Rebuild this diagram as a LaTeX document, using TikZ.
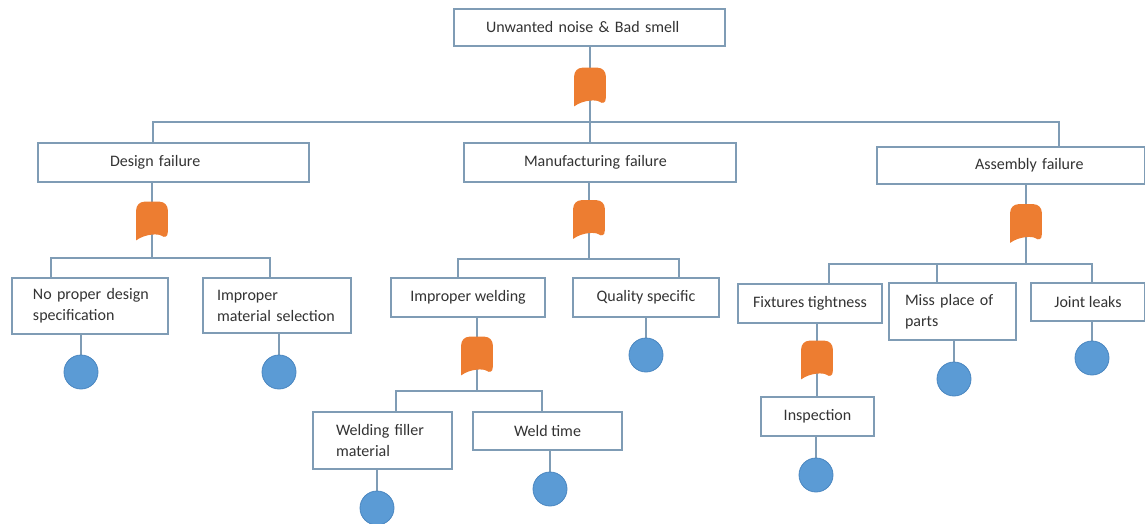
\documentclass[tikz,border=0pt]{standalone}
\usepackage{fontspec}
\setmainfont{Carlito}
\usetikzlibrary{backgrounds, calc}
\definecolor{LineBlue}{HTML}{7F9CB5}
\definecolor{GateOrange}{HTML}{ED7D31}
\definecolor{BasicBlue}{HTML}{5B9BD5}
\definecolor{BasicEdge}{HTML}{4A86C0}
\definecolor{TextGrey}{HTML}{333333}
\tikzset{
  ebox/.style={draw=LineBlue, line width=0.8pt, fill=white, inner sep=0pt,
    text=TextGrey, font=\fontsize{12}{15.75}\selectfont},
  lbox/.style={ebox, align=left, text width=#1},
  gate/.style={inner sep=0pt, minimum width=23.25pt, minimum height=28.5pt},
  basic/.style={circle, fill=BasicBlue, draw=BasicEdge, line width=0.6pt,
    minimum size=25.5pt, inner sep=0pt},
  link/.style={draw=LineBlue, line width=0.8pt},
}

\begin{document}
\begin{tikzpicture}[x=0.75pt, y=-0.75pt]
  \useasboundingbox (0,0) rectangle (1145,524);

  % events
  \node[lbox=203.25pt, minimum height=27.75pt] (top) at (589.5,27.5) {\hspace*{24pt}Unwanted noise \& Bad smell};
  \node[lbox=203.25pt, minimum height=29.25pt] (des) at (173.5,162.5) {\hspace*{54pt}Design failure};
  \node[lbox=204pt, minimum height=29.25pt] (man) at (600,162.5) {\hspace*{45pt}Manufacturing failure};
  \node[lbox=201pt, minimum height=27.75pt] (asm) at (1011,165.5) {\hspace*{73.5pt}Assembly failure};
  \node[lbox=117pt, minimum height=42pt] (nop) at (90,306) {\hspace*{15.75pt}No proper design\\\hspace*{15.75pt}specification};
  \node[lbox=111pt, minimum height=41.25pt] (imp) at (277,305.5) {\hspace*{10.5pt}Improper\\\hspace*{10.5pt}material selection};
  \node[ebox, minimum width=115.5pt, minimum height=29.25pt] (iw) at (468,297.5) {Improper welding};
  \node[ebox, minimum width=109.5pt, minimum height=29.25pt] (qs) at (646,297.5) {Quality specific};
  \node[ebox, minimum width=108pt, minimum height=29.25pt] (ft) at (810,303.5) {Fixtures tightness};
  \node[lbox=95.25pt, minimum height=42.75pt] (mp) at (952.5,311.5) {\hspace*{12pt}Miss place of\\\hspace*{12pt}parts};
  \node[ebox, minimum width=85.5pt, minimum height=28.5pt] (jl) at (1088,302) {Joint leaks};
  \node[lbox=104.25pt, minimum height=42.75pt] (wf) at (382.5,440.5) {\hspace*{17.25pt}Welding filler\\\hspace*{17.25pt}material};
  \node[ebox, minimum width=111.75pt, minimum height=28.5pt] (wt) at (547.5,431) {Weld time};
  \node[ebox, minimum width=84.75pt, minimum height=29.25pt] (ins) at (817.5,416.5) {Inspection};

  % gates
  \node[gate] (g0) at (590,87) {};
  \node[gate] (gD) at (152,221) {};
  \node[gate] (gM) at (589,219.5) {};
  \node[gate] (gA) at (1026,223.5) {};
  \node[gate] (gW) at (477,356) {};
  \node[gate] (gF) at (817,360) {};
  \foreach \g in {g0,gD,gM,gA,gW,gF}
    \fill[GateOrange] (\g.south west) [rounded corners=6pt] -- (\g.north west) -- (\g.north east)
      -- (\g.south east) [sharp corners] .. controls ($(\g.south east)+(-7pt,5pt)$)
      and ($(\g.south west)+(7pt,5pt)$) .. cycle;

  % basic events
  \node[basic] (cnop) at (81,372) {};
  \node[basic] (cimp) at (279,372) {};
  \node[basic] (cqs) at (646,355) {};
  \node[basic] (cwf) at (377,508) {};
  \node[basic] (cwt) at (550,489) {};
  \node[basic] (cins) at (816,475) {};
  \node[basic] (cmp) at (954,379) {};
  \node[basic] (cjl) at (1092,358) {};

  \begin{scope}[on background layer]
    \coordinate (b0L) at (153,122);  \coordinate (b0R) at (1059,122);
    \coordinate (bDL) at (51,258);   \coordinate (bDR) at (270,258);
    \coordinate (bML) at (458,259);  \coordinate (bMR) at (679,259);
    \coordinate (bAL) at (829,264);  \coordinate (bAM) at (937,264);  \coordinate (bAR) at (1092,264);
    \coordinate (bWL) at (396,391);  \coordinate (bWR) at (542,391);

    \draw[link] (g0 |- top.south) -- (g0 |- man.north);
    \draw[link] (b0L |- des.north) -- (b0L) -- (b0R) -- (b0R |- asm.north);

    \draw[link] (gD |- des.south) -- (gD |- bDL);
    \draw[link] (bDL |- nop.north) -- (bDL) -- (bDR) -- (bDR |- imp.north);

    \draw[link] (gM |- man.south) -- (gM |- bML);
    \draw[link] (bML |- iw.north) -- (bML) -- (bMR) -- (bMR |- qs.north);

    \draw[link] (gA |- asm.south) -- (gA |- bAL);
    \draw[link] (bAL |- ft.north) -- (bAL) -- (bAR) -- (bAR |- jl.north);
    \draw[link] (bAM) -- (bAM |- mp.north);

    \draw[link] (gW |- iw.south) -- (gW |- bWL);
    \draw[link] (bWL |- wf.north) -- (bWL) -- (bWR) -- (bWR |- wt.north);

    \draw[link] (gF |- ft.south) -- (gF |- ins.north);

    \draw[link] (cnop |- nop.south) -- (cnop);
    \draw[link] (cimp |- imp.south) -- (cimp);
    \draw[link] (cqs |- qs.south) -- (cqs);
    \draw[link] (cwf |- wf.south) -- (cwf);
    \draw[link] (cwt |- wt.south) -- (cwt);
    \draw[link] (cins |- ins.south) -- (cins);
    \draw[link] (cmp |- mp.south) -- (cmp);
    \draw[link] (cjl |- jl.south) -- (cjl);
  \end{scope}
\end{tikzpicture}
\end{document}
